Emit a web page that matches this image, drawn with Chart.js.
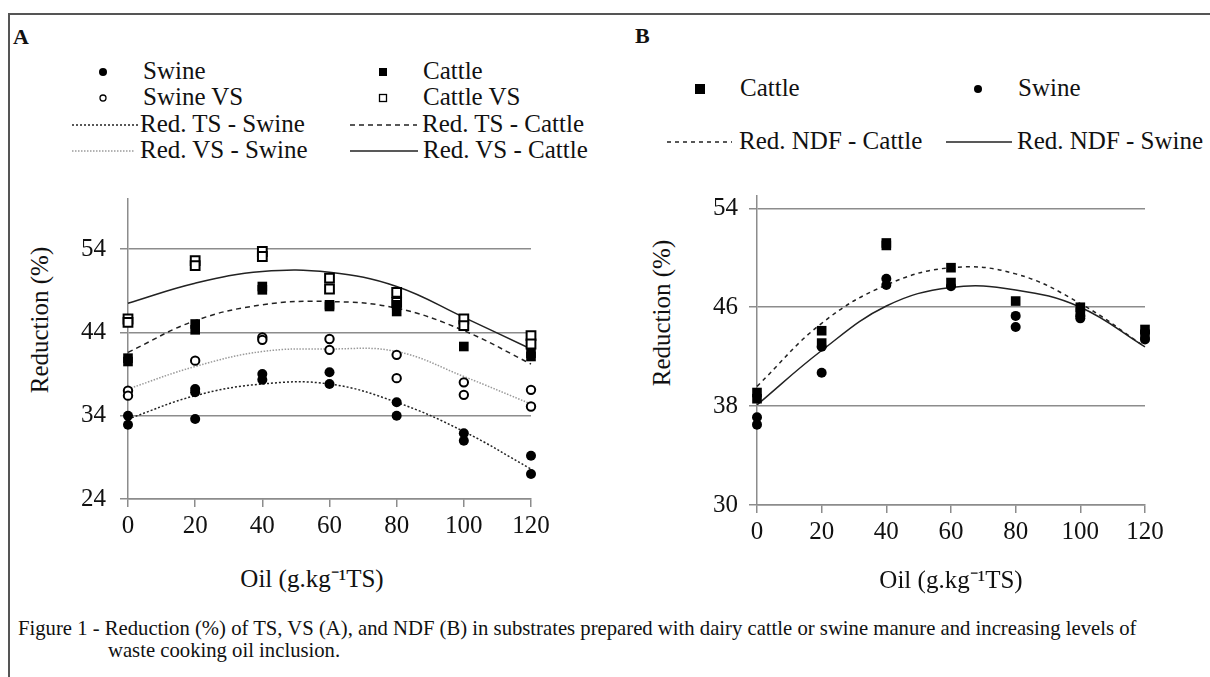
<!DOCTYPE html>
<html>
<head>
<meta charset="utf-8">
<script src="https://cdn.jsdelivr.net/npm/chart.js@4.4.1/dist/chart.umd.min.js"></script>
<style>
  body { margin: 0; background: #fff; }
  #page { position: relative; width: 1210px; height: 677px; overflow: hidden;
          font-family: "Liberation Serif", "Times New Roman", serif; color: #111; }
  .frame-top { position: absolute; left: 8px; top: 13px; right: 0; height: 2px; background: #555; }
  .frame-left { position: absolute; left: 8px; top: 13px; width: 2px; bottom: 0; background: #555; }
  .panel-label { position: absolute; font-weight: bold; font-size: 22px; line-height: 26px; }
  .txt { position: absolute; font-size: 25px; line-height: 28px; height: 28px; white-space: nowrap; }
  .ytitle { position: absolute; font-size: 25px; white-space: nowrap;
            transform: translate(-50%, -50%) rotate(-90deg); }
  .xtitle { position: absolute; font-size: 25px; white-space: nowrap; transform: translate(-50%, -50%); }
  .caption { position: absolute; font-size: 20.7px; white-space: nowrap; line-height: 22px; }
  .box { position: absolute; }
  svg.mk { position: absolute; overflow: visible; }
</style>
</head>
<body>
<div id="page">
  <div class="frame-top"></div>
  <div class="frame-left"></div>

  <div class="panel-label" style="left:13px; top:24px;">A</div>
  <div class="panel-label" style="left:635px; top:23px;">B</div>

  <div class="ytitle" style="left:40px; top:320px;">Reduction (%)</div>
  <div class="ytitle" style="left:662px; top:313px;">Reduction (%)</div>
  <div class="xtitle" style="left:312px; top:577px;">Oil (g.kg&#x207B;&#x00B9;TS)</div>

  <div class="box" style="left:40px; top:170px; width:520px; height:430px;"><canvas id="chartA"></canvas></div>
  <div class="box" style="left:680px; top:170px; width:500px; height:430px;"><canvas id="chartB"></canvas></div>

  <div class="caption" style="left:18px; top:617px;">Figure 1 - Reduction (%) of TS, VS (A), and NDF (B) in substrates prepared with dairy cattle or swine manure and increasing levels of</div>
  <div class="caption" style="left:108px; top:639px;">waste cooking oil inclusion.</div>
</div>

<script>
// oil inclusion levels (g/kg TS) and tick values
const oilLevels = [0, 20, 40, 60, 80, 100, 120];
const yTicksA = [24, 34, 44, 54];
const yTicksB = [30, 38, 46, 54];

// panel A: observed reductions, [oil, %]
const swineTS = [[0, 34.0], [0, 32.9], [20, 37.2], [20, 36.8], [20, 33.6], [40, 39.0], [40, 38.3],
  [60, 39.2], [60, 37.8], [80, 35.6], [80, 34.0], [100, 31.9], [100, 31.0], [120, 29.2], [120, 27.0]];
const swineVS = [[0, 37.0], [0, 36.4], [20, 40.6], [40, 43.4], [40, 43.1], [60, 43.2], [60, 41.9],
  [80, 41.3], [80, 38.5], [100, 38.0], [100, 36.5], [120, 37.1], [120, 35.1]];
const cattleTS = [[0, 40.9], [0, 40.5], [20, 45.0], [20, 44.3], [40, 49.5], [40, 49.1], [60, 47.3], [60, 47.1],
  [80, 47.3], [80, 46.5], [100, 42.3], [120, 41.5], [120, 41.1]];
const cattleVS = [[0, 45.6], [0, 45.2], [20, 52.6], [20, 52.0], [40, 53.7], [40, 53.1], [60, 50.5], [60, 49.2],
  [80, 48.8], [80, 47.6], [100, 45.6], [100, 44.8], [120, 43.6], [120, 42.6]];

// panel A: fitted curves read at each oil level
const fitTSSwine = [33.6, 36.4, 37.8, 37.8, 35.6, 32.1, 27.6];
const fitTSCattle = [41.6, 45.4, 47.3, 47.7, 46.9, 44.2, 40.2];
const fitVSSwine = [37.2, 39.9, 41.7, 42.0, 41.7, 38.7, 35.4];
const fitVSCattle = [47.5, 49.9, 51.3, 51.2, 49.5, 45.8, 42.0];

// panel B: NDF reduction
const cattleNDF = [[0, 39.1], [0, 38.6], [20, 44.1], [20, 43.1], [40, 51.2], [40, 51.0], [60, 49.2], [60, 48.0],
  [80, 46.5], [100, 46.0], [100, 45.6], [120, 44.2], [120, 43.8]];
const swineNDF = [[0, 37.1], [0, 36.5], [20, 42.8], [20, 40.7], [40, 48.3], [40, 47.8], [60, 47.7],
  [80, 45.3], [80, 44.4], [100, 45.1], [100, 45.3], [120, 44.0], [120, 43.4]];
const fitNDFCattle = [39.6, 44.7, 47.8, 49.2, 48.7, 46.3, 42.8];
const fitNDFSwine = [38.1, 42.5, 46.1, 47.6, 47.4, 46.0, 42.8];

const pts = arr => arr.map(([x, y]) => ({ x, y }));
const curve = vals => vals.map((y, i) => ({ x: oilLevels[i], y }));

Chart.defaults.font.family = '"Liberation Serif", "Times New Roman", serif';
Chart.defaults.color = '#111';

const gridGray = '#8c8c8c';

function scalesFor(yMin, yMax, yTicks, yWidth, xHeight, yPad, showXTitle) {
  return {
    x: {
      type: 'linear', min: 0, max: 120,
      ticks: { stepSize: 20, font: { size: 25 }, padding: 4, color: '#111' },
      grid: { drawOnChartArea: false, color: gridGray, lineWidth: 1.5, tickLength: 8 },
      border: { color: gridGray, width: 1.5 },
      title: { display: showXTitle, text: 'Oil (g.kg\u207B\u00B9TS)', font: { size: 25 }, color: '#111', padding: { top: 4, bottom: 4 } },
      afterFit: s => { s.height = xHeight; }
    },
    y: {
      type: 'linear', min: yMin, max: yMax,
      afterBuildTicks: s => { s.ticks = yTicks.map(v => ({ value: v })); },
      ticks: { font: { size: 25 }, padding: yPad, color: '#111' },
      grid: { color: gridGray, lineWidth: 1.5, tickLength: 8 },
      border: { color: gridGray, width: 1.5 },
      afterFit: s => { s.width = yWidth; }
    }
  };
}

function marks(label, data, style, r, hollow) {
  return {
    type: 'scatter', label, data: pts(data), pointStyle: style, pointRadius: r, pointHoverRadius: r,
    backgroundColor: hollow ? '#fff' : '#000', borderColor: '#000', borderWidth: hollow ? 2 : 0, clip: false
  };
}
function fitLine(label, vals, color, dash, width) {
  return {
    type: 'line', label, data: curve(vals), borderColor: color, borderWidth: width, borderDash: dash,
    pointRadius: 0, fill: false, tension: 0.4, clip: false
  };
}

const dsA = [
  marks('Swine', swineTS, 'circle', 5, false),
  marks('Swine VS', swineVS, 'circle', 4.2, true),
  marks('Cattle', cattleTS, 'rect', 6.8, false),
  marks('Cattle VS', cattleVS, 'rect', 6.2, true),
  fitLine('Red. TS - Swine', fitTSSwine, '#222', [2, 2], 1.5),
  fitLine('Red. TS - Cattle', fitTSCattle, '#222', [5, 4], 1.5),
  fitLine('Red. VS - Swine', fitVSSwine, '#9a9a9a', [1.5, 1.5], 1.5),
  fitLine('Red. VS - Cattle', fitVSCattle, '#222', [], 1.5)
];

const dsB = [
  marks('Cattle', cattleNDF, 'rect', 6.8, false),
  marks('Swine', swineNDF, 'circle', 5, false),
  fitLine('Red. NDF - Cattle', fitNDFCattle, '#222', [4, 4], 1.5),
  fitLine('Red. NDF - Swine', fitNDFSwine, '#222', [], 1.5)
];

const common = {
  responsive: true, maintainAspectRatio: false, animation: false, events: [],
  plugins: { legend: { display: false }, tooltip: { enabled: false } }
};

const chartA = new Chart(document.getElementById('chartA'), {
  type: 'scatter',
  data: { datasets: dsA },
  options: { ...common, layout: { padding: { top: 22, right: 29, bottom: 5, left: 0 } },
    scales: scalesFor(24, 60, yTicksA, 88, 96, 14, false) }
});

const chartB = new Chart(document.getElementById('chartB'), {
  type: 'scatter',
  data: { datasets: dsB },
  options: { ...common, layout: { padding: { top: 18, right: 35, bottom: 0, left: 0 } },
    scales: scalesFor(30, 55, yTicksB, 77, 95, 11, true) }
});

// html legends, styled from the datasets above
const page = document.getElementById('page');
function legendText(text, x, y) {
  const d = document.createElement('div');
  d.className = 'txt';
  d.style.left = x + 'px';
  d.style.top = (y - 15) + 'px';
  d.textContent = text;
  page.appendChild(d);
}
function legendMarker(ds, cx, cy, size) {
  const hollow = ds.backgroundColor === '#fff';
  const sw = hollow ? 1.3 : 0;
  const shape = ds.pointStyle === 'rect'
    ? `<rect x="${-size / 2}" y="${-size / 2}" width="${size}" height="${size}" fill="${ds.backgroundColor}" stroke="#000" stroke-width="${sw}"/>`
    : `<circle cx="0" cy="0" r="${size / 2}" fill="${ds.backgroundColor}" stroke="#000" stroke-width="${sw}"/>`;
  page.insertAdjacentHTML('beforeend',
    `<svg class="mk" style="left:${cx}px; top:${cy}px;" width="1" height="1">${shape}</svg>`);
}
function legendLine(ds, x1, x2, y) {
  const w = x2 - x1;
  page.insertAdjacentHTML('beforeend',
    `<svg class="mk" style="left:${x1}px; top:${y - 2}px;" width="${w}" height="4"><line x1="0" y1="2" x2="${w}" y2="2" stroke="${ds.borderColor}" stroke-width="1.3" stroke-dasharray="${ds.borderDash.join(' ')}"/></svg>`);
}

// legend A
legendMarker(dsA[0], 103, 72, 8);   legendText(dsA[0].label, 143, 72);
legendMarker(dsA[2], 383, 72, 8);   legendText(dsA[2].label, 423, 72);
legendMarker(dsA[1], 103, 98, 6);   legendText(dsA[1].label, 143, 98);
legendMarker(dsA[3], 383, 98, 7);   legendText(dsA[3].label, 423, 98);
legendLine(dsA[4], 72, 138, 125);   legendText(dsA[4].label, 140, 125);
legendLine(dsA[5], 350, 417, 125);  legendText(dsA[5].label, 422, 125);
legendLine(dsA[6], 72, 134, 151);   legendText(dsA[6].label, 140, 151);
legendLine(dsA[7], 350, 418, 151);  legendText(dsA[7].label, 423, 151);

// legend B
legendMarker(dsB[0], 700, 89, 10);  legendText(dsB[0].label, 740, 89);
legendMarker(dsB[1], 978, 89, 8);   legendText(dsB[1].label, 1018, 89);
legendLine(dsB[2], 667, 732, 142);  legendText(dsB[2].label, 739, 142);
legendLine(dsB[3], 946, 1012, 142); legendText(dsB[3].label, 1017, 142);
</script>
</body>
</html>
